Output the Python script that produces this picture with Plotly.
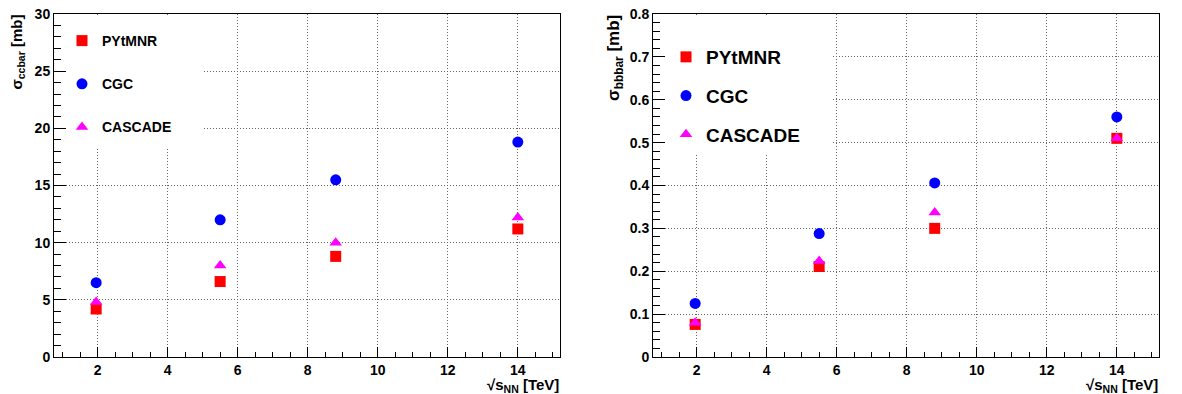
import plotly.graph_objects as go

energies = [1.96, 5.5, 8.8, 14.0]
series_names = ["PYtMNR", "CGC", "CASCADE"]
cc_pytmnr = [4.2, 6.6, 8.8, 11.2]
cc_cgc = [6.5, 12.0, 15.5, 18.8]
cc_cascade = [4.8, 8.0, 10.0, 12.2]
bb_pytmnr = [0.076, 0.211, 0.300, 0.510]
bb_cgc = [0.125, 0.288, 0.406, 0.560]
bb_cascade = [0.080, 0.224, 0.337, 0.510]

colors = ["#ff0000", "#0000ff", "#ff00ff"]
symbols = ["square", "circle", "triangle-up"]
sizes = [11, 11, 11]

W, H = 1182, 394
FONT = "Liberation Sans, Arial, sans-serif"
XR = [0.756, 15.204]

fig = go.Figure()

for i, (name, ys) in enumerate(zip(series_names, [cc_pytmnr, cc_cgc, cc_cascade])):
    fig.add_trace(go.Scatter(x=energies, y=ys, mode="markers", name=name,
                             marker=dict(color=colors[i], symbol=symbols[i], size=sizes[i], line=dict(width=0)),
                             xaxis="x", yaxis="y", legend="legend", legendgroup="a" + name))
for i, (name, ys) in enumerate(zip(series_names, [bb_pytmnr, bb_cgc, bb_cascade])):
    fig.add_trace(go.Scatter(x=energies, y=ys, mode="markers", name=name,
                             marker=dict(color=colors[i], symbol=symbols[i], size=sizes[i], line=dict(width=0)),
                             xaxis="x2", yaxis="y2", legend="legend2", legendgroup="b" + name))

def px_x(p):
    return p / W

def px_y(p):
    return (H - p) / H

xdom1 = [px_x(54), px_x(560)]
xdom2 = [px_x(653), px_x(1159)]
ydom = [px_y(357), px_y(14)]

tickfont = dict(family=FONT, size=14, color="black", weight="bold")
grid = dict(showgrid=True, gridcolor="#666666", griddash="1px,2px", gridwidth=1)

def xaxis(dom, anchor):
    return dict(domain=dom, anchor=anchor, range=XR, tickvals=[2, 4, 6, 8, 10, 12, 14],
                ticks="inside", ticklen=10, tickcolor="black", tickwidth=1,
                minor=dict(dtick=0.5, tick0=0, ticks="inside", ticklen=5, tickcolor="black", showgrid=False),
                showline=True, linecolor="black", linewidth=1, mirror=True,
                tickfont=tickfont, zeroline=False, **grid)

def yaxis(dom, anchor, rng, dt, mdt):
    return dict(domain=dom, anchor=anchor, range=rng, dtick=dt, tick0=0,
                ticks="inside", ticklen=12, tickcolor="black", tickwidth=1,
                minor=dict(dtick=mdt, tick0=0, ticks="inside", ticklen=7, tickcolor="black", showgrid=False),
                showline=True, linecolor="black", linewidth=1, mirror=True,
                tickfont=tickfont, zeroline=False, **grid)

fig.update_layout(
    width=W, height=H, margin=dict(l=0, r=0, t=0, b=0, autoexpand=False),
    paper_bgcolor="white", plot_bgcolor="white",
    xaxis=xaxis(xdom1, "y"), yaxis=yaxis(ydom, "x", [0, 30], 5, 1),
    xaxis2=xaxis(xdom2, "y2"), yaxis2=yaxis(ydom, "x2", [0, 0.8], 0.1, 0.02),
    legend=dict(x=px_x(62), y=px_y(25), xanchor="left", yanchor="top", bgcolor="rgba(0,0,0,0)",
                font=dict(family=FONT, size=14, color="black", weight="bold"),
                tracegroupgap=22, traceorder="grouped", itemsizing="trace"),
    legend2=dict(x=px_x(666), y=px_y(38), xanchor="left", yanchor="top", bgcolor="rgba(0,0,0,0)",
                 font=dict(family=FONT, size=19, color="black", weight="bold"),
                 tracegroupgap=11, traceorder="grouped", itemsizing="trace"),
    showlegend=True,
)

# white legend panels hiding the grid (as in the original)
def dx(px):
    return XR[0] + px * (XR[1] - XR[0]) / 506

fig.add_shape(type="rect", xref="x", yref="y", x0=dx(1), x1=dx(203 - 54),
              y0=30 * (357 - 147) / 343, y1=30 * 342 / 343, fillcolor="white", line=dict(width=0), layer="between")
fig.add_shape(type="rect", xref="x2", yref="y2", x0=dx(1), x1=dx(833 - 653),
              y0=0.8 * (357 - 154) / 343, y1=0.8 * 342 / 343, fillcolor="white", line=dict(width=0), layer="between")

fig.add_annotation(text="σ<sub>ccbar</sub> [mb]", textangle=-90, xref="paper", yref="paper",
                   x=px_x(17), y=px_y(13), xanchor="center", yanchor="top", showarrow=False,
                   font=dict(family=FONT, size=15, color="black", weight="bold"))
fig.add_annotation(text="σ<sub>bbbar</sub> [mb]", textangle=-90, xref="paper", yref="paper",
                   x=px_x(615), y=px_y(13), xanchor="center", yanchor="top", showarrow=False,
                   font=dict(family=FONT, size=17, color="black", weight="bold"))
xtfont = dict(family=FONT, size=15, color="black", weight="bold")
fig.add_annotation(text="√s<sub>NN</sub> [TeV]", xref="paper", yref="paper",
                   x=px_x(561), y=px_y(385), xanchor="right", yanchor="middle", showarrow=False, font=xtfont)
fig.add_annotation(text="√s<sub>NN</sub> [TeV]", xref="paper", yref="paper",
                   x=px_x(1160), y=px_y(385), xanchor="right", yanchor="middle", showarrow=False, font=xtfont)

fig.write_html("out.html", config={"displayModeBar": False},
               post_script="document.body.style.margin='0px';document.body.style.padding='0px';")
